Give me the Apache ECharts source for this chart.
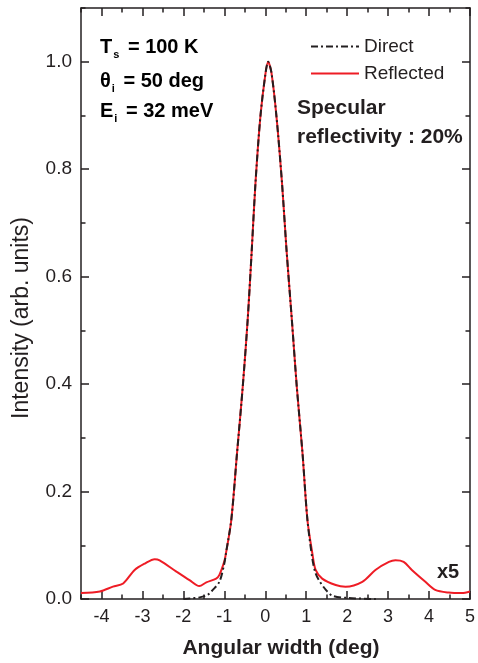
<!DOCTYPE html>
<html>
<head>
<meta charset="utf-8">
<script src="https://cdn.jsdelivr.net/npm/echarts@6/dist/echarts.min.js"></script>
<style>html,body{margin:0;padding:0;background:#fff}#c{width:478px;height:663px}</style>
</head>
<body>
<div id="c"></div>
<script>
// Angular width (deg) and intensity for the direct beam
const directX = [-2.0, -1.85, -1.6, -1.4, -1.28, -1.12, -1.0, -0.96, -0.83, -0.69, -0.55, -0.43, -0.33, -0.24, -0.12, 0.0, 0.07, 0.15, 0.275, 0.41, 0.52, 0.65, 0.77, 0.91, 1.03, 1.15, 1.22, 1.31, 1.48, 1.64, 2.0, 2.7];
const directY = [0.0, 0.001, 0.003, 0.008, 0.017, 0.032, 0.066, 0.085, 0.147, 0.271, 0.395, 0.519, 0.649, 0.773, 0.897, 0.975, 1.0, 0.98, 0.897, 0.773, 0.649, 0.519, 0.395, 0.271, 0.147, 0.075, 0.05, 0.035, 0.017, 0.006, 0.002, 0.0];
// Reflected beam (wings multiplied x5)
const reflX = [-4.5, -4.04, -3.72, -3.47, -3.19, -2.94, -2.7, -2.58, -2.17, -1.85, -1.61, -1.44, -1.2, -1.12, -1.0, -0.96, -0.83, -0.69, -0.55, -0.43, -0.33, -0.24, -0.12, 0.0, 0.07, 0.15, 0.275, 0.41, 0.52, 0.65, 0.77, 0.91, 1.03, 1.15, 1.23, 1.39, 1.72, 1.96, 2.37, 2.69, 3.02, 3.18, 3.38, 3.58, 3.91, 4.15, 4.48, 4.8, 5.0];
const reflY = [0.011, 0.014, 0.023, 0.029, 0.054, 0.066, 0.074, 0.072, 0.051, 0.035, 0.024, 0.031, 0.038, 0.045, 0.07, 0.085, 0.147, 0.271, 0.395, 0.519, 0.649, 0.773, 0.897, 0.975, 1.0, 0.98, 0.897, 0.773, 0.649, 0.519, 0.395, 0.271, 0.147, 0.085, 0.054, 0.038, 0.026, 0.023, 0.032, 0.054, 0.069, 0.072, 0.069, 0.054, 0.032, 0.017, 0.012, 0.011, 0.014];
const xMajorTicks = [-4, -3, -2, -1, 0, 1, 2, 3, 4, 5];
const yMajorTicks = [0, 0.2, 0.4, 0.6, 0.8, 1.0];
const seriesNames = ['Direct', 'Reflected'];

const ink = '#231f20';
const font = '"Liberation Sans", Arial, sans-serif';
const chart = echarts.init(document.getElementById('c'));
const zip = (xs, ys) => xs.map((x, i) => [x, ys[i]]);

function xAx(pos, labels, major) {
  return {
    type: 'value', position: pos, min: -4.5, max: 5, interval: 0.5,
    axisLine: { show: !major, onZero: false, lineStyle: { color: ink, width: 1.5 } },
    splitLine: { show: false },
    axisTick: major
      ? { show: true, inside: true, length: 8, customValues: xMajorTicks, lineStyle: { color: ink, width: 1.5 } }
      : { show: true, inside: true, length: 4.5, lineStyle: { color: ink, width: 1.5 } },
    axisLabel: labels ? {
      show: true, margin: 9, color: ink, fontSize: 18, fontFamily: font,
      formatter: v => (Math.abs(v - Math.round(v)) < 1e-6 ? String(Math.round(v)) : '')
    } : { show: false }
  };
}
function yAx(pos, labels, major) {
  return {
    type: 'value', position: pos, min: 0, max: 1.1, interval: 0.1,
    axisLine: { show: !major, onZero: false, lineStyle: { color: ink, width: 1.5 } },
    splitLine: { show: false },
    axisTick: major
      ? { show: true, inside: true, length: 8, customValues: yMajorTicks, lineStyle: { color: ink, width: 1.5 } }
      : { show: true, inside: true, length: 4.5, lineStyle: { color: ink, width: 1.5 } },
    axisLabel: labels ? {
      show: true, margin: 9, color: ink, fontSize: 19, fontFamily: font,
      formatter: v => { const k = Math.round(v * 10); return (k % 2 === 0 && k <= 10) ? (k / 10).toFixed(1) : ''; }
    } : { show: false }
  };
}

const sub = { font: 'bold 11px ' + font, color: ink, padding: [15, 3, 0, 1] };
const big = { font: 'bold 20px ' + font, color: ink };

chart.setOption({
  animation: false,
  backgroundColor: '#fff',
  grid: { left: 81, right: 5, top: 8, bottom: 64 },
  xAxis: [xAx('bottom', true, false), xAx('bottom', false, true), xAx('top', false, false), xAx('top', false, true)],
  yAxis: [yAx('left', true, false), yAx('left', false, true), yAx('right', false, false), yAx('right', false, true)],
  legend: {
    orient: 'vertical', left: 305, top: 32, itemWidth: 48, itemHeight: 12, itemGap: 8,
    textStyle: { fontSize: 19, color: ink, fontFamily: font, padding: [0, 0, 0, 0] },
    itemStyle: { opacity: 0 },
    data: seriesNames
  },
  series: [
    {
      name: seriesNames[1], type: 'line', xAxisIndex: 0, yAxisIndex: 0, showSymbol: false, symbol: 'none',
      smooth: 0.3, data: zip(reflX, reflY),
      lineStyle: { color: '#ee1c25', width: 2 }, itemStyle: { color: '#ee1c25' }, z: 2
    },
    {
      name: seriesNames[0], type: 'line', xAxisIndex: 0, yAxisIndex: 0, showSymbol: false, symbol: 'none',
      smooth: 0.3, data: zip(directX, directY),
      lineStyle: { color: ink, width: 2, type: [7, 3, 2, 3] }, itemStyle: { color: ink }, z: 3
    }
  ],
  graphic: [
    { type: 'text', x: 22, y: 318, rotation: Math.PI / 2, style: { text: 'Intensity (arb. units)', font: '23px ' + font, fill: ink, align: 'center', verticalAlign: 'middle' } },
    { type: 'text', x: 281, y: 648, style: { text: 'Angular width (deg)', font: 'bold 21px ' + font, fill: ink, align: 'center', verticalAlign: 'middle' } },
    { type: 'text', x: 100, y: 34, style: { text: '{a|T}{s|s}{a| = 100 K}', rich: { a: big, s: sub } } },
    { type: 'text', x: 100, y: 68, style: { text: '{a|θ}{s|i}{a| = 50 deg}', rich: { a: big, s: sub } } },
    { type: 'text', x: 100, y: 98, style: { text: '{a|E}{s|i}{a| = 32 meV}', rich: { a: big, s: sub } } },
    { type: 'text', x: 297, y: 94, style: { text: 'Specular\nreflectivity : 20%', font: 'bold 21px ' + font, fill: ink, lineHeight: 29 } },
    { type: 'text', x: 437, y: 562, style: { text: 'x5', font: 'bold 20px ' + font, fill: ink } }
  ]
});
</script>
</body>
</html>
